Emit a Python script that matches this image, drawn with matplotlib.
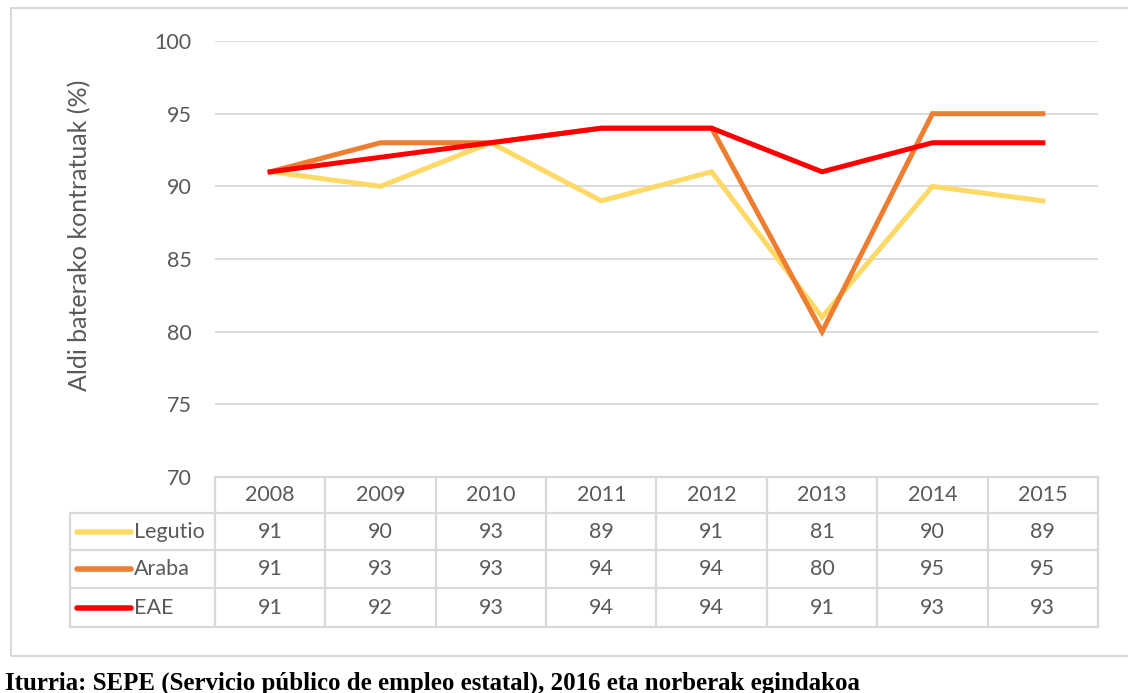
import matplotlib.pyplot as plt
from matplotlib.patches import Rectangle

# Datuak
years = ['2008', '2009', '2010', '2011', '2012', '2013', '2014', '2015']
legutio = [91, 90, 93, 89, 91, 81, 90, 89]
araba = [91, 93, 93, 94, 94, 80, 95, 95]
eae = [91, 92, 93, 94, 94, 91, 93, 93]
series_names = ['Legutio', 'Araba', 'EAE']
series_colors = ['#FFD966', '#ED7D31', '#FF0000']

W, H = 1128, 693
grid_c = '#D9D9D9'
txt_c = '#595959'
plt.rcParams['font.family'] = ['Lato', 'DejaVu Sans']
fs = 15.5

fig = plt.figure(figsize=(W / 100, H / 100), dpi=100)

# ardatzaren kokapena pixeletan
ax_l, ax_r, ax_t, ax_b = 215, 1098, 41, 477
ax = fig.add_axes([ax_l / W, 1 - ax_b / H, (ax_r - ax_l) / W, (ax_b - ax_t) / H])

x = list(range(len(years)))
for vals, name, col in zip([legutio, araba, eae], series_names, series_colors):
    ax.plot(x, vals, color=col, lw=3.6, solid_joinstyle='miter', zorder=3)

ax.set_xlim(-0.5, len(years) - 0.5)
ax.set_ylim(70, 100)
ax.set_yticks(range(70, 101, 5))
for yv in range(75, 101, 5):
    ax.axhline(yv, color=grid_c, lw=1.3, zorder=1)
for s in ax.spines.values():
    s.set_visible(False)
ax.set_xticks([])
ax.tick_params(axis='y', length=0, pad=17, labelsize=fs, labelcolor=txt_c)

# taula: pixel koordenatuak -> figura
def fx(px):
    return px / W

def fy(py):
    return 1 - py / H

fig.text(fx(80), fy(235), 'Aldi baterako kontratuak (%)', rotation=90, ha='center',
         va='center', fontsize=18, color=txt_c)

row_edges = [477, 513, 550, 588, 627]
legend_left = 70
col_w = (ax_r - ax_l) / len(years)
col_edges = [ax_l + i * col_w for i in range(len(years) + 1)]

lines_kw = dict(color=grid_c, lw=1.6, transform=fig.transFigure)
# goiburuko errenkada
fig.add_artist(plt.Line2D([fx(ax_l), fx(ax_r)], [fy(row_edges[0])] * 2, **lines_kw))
for r in row_edges[1:]:
    fig.add_artist(plt.Line2D([fx(legend_left), fx(ax_r)], [fy(r)] * 2, **lines_kw))
for c in col_edges:
    fig.add_artist(plt.Line2D([fx(c)] * 2, [fy(row_edges[0]), fy(row_edges[-1])], **lines_kw))
fig.add_artist(plt.Line2D([fx(legend_left)] * 2, [fy(row_edges[1]), fy(row_edges[-1])], **lines_kw))

def cy(i):
    return fy((row_edges[i] + row_edges[i + 1]) / 2)

for j, yr in enumerate(years):
    fig.text(fx(col_edges[j] + col_w / 2), cy(0), yr, ha='center', va='center',
             fontsize=fs, color=txt_c)

for i, (vals, name, col) in enumerate(zip([legutio, araba, eae], series_names, series_colors)):
    yy = cy(i + 1)
    fig.add_artist(plt.Line2D([fx(77), fx(131)], [yy, yy], color=col, lw=4,
                              solid_capstyle='round', transform=fig.transFigure))
    fig.text(fx(134), yy, name, ha='left', va='center', fontsize=fs, color=txt_c)
    for j, v in enumerate(vals):
        fig.text(fx(col_edges[j] + col_w / 2), yy, str(v), ha='center', va='center',
                 fontsize=fs, color=txt_c)

# kanpoko ertza
fig.add_artist(Rectangle((fx(11), fy(656)), fx(1200), fy(8) - fy(656), fill=False,
                         edgecolor=grid_c, lw=1.5, transform=fig.transFigure))

fig.text(fx(5), fy(683), 'Iturria: SEPE (Servicio público de empleo estatal), 2016 eta norberak egindakoa',
         fontsize=17.9, fontweight='bold', family='Liberation Serif', ha='left', va='center',
         color='black')

fig.savefig('out.png', dpi=100)
